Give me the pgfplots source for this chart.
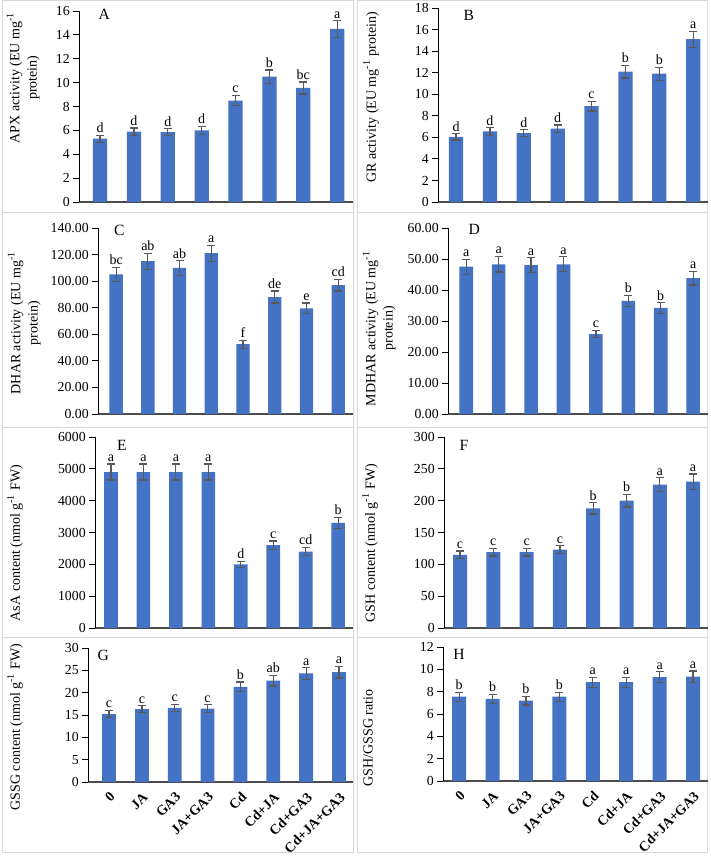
\documentclass[border=0pt]{standalone}
\usepackage{pgfplots}
\pgfplotsset{compat=1.18}
\usepackage{pgfplotstable}
\usepackage{fontspec}
\setmainfont{Liberation Serif}

\definecolor{barblue}{HTML}{4472C4}
\definecolor{errgray}{HTML}{595959}
\definecolor{frame}{HTML}{D9D9D9}

\pgfplotstableread{
x y e l
0 5.30 0.30 d
1 5.90 0.30 d
2 5.85 0.30 d
3 6.00 0.35 d
4 8.50 0.45 c
5 10.50 0.55 b
6 9.55 0.50 bc
7 14.50 0.70 a
}\dataA
\pgfplotstableread{
x y e l
0 6.05 0.30 d
1 6.55 0.35 d
2 6.40 0.30 d
3 6.80 0.35 d
4 8.90 0.45 c
5 12.10 0.60 b
6 11.90 0.60 b
7 15.10 0.75 a
}\dataB
\pgfplotstableread{
x y e l
0 105.0 5.5 bc
1 115.0 6.0 ab
2 110.0 5.5 ab
3 121.0 6.0 a
4 52.5 3.0 f
5 88.0 4.5 de
6 79.5 4.0 e
7 97.0 4.5 cd
}\dataC
\pgfplotstableread{
x y e l
0 47.5 2.4 a
1 48.3 2.5 a
2 48.0 2.4 a
3 48.3 2.4 a
4 25.8 1.2 c
5 36.5 1.8 b
6 34.2 1.7 b
7 43.8 2.2 a
}\dataD
\pgfplotstableread{
x y e l
0 4900 250 a
1 4900 250 a
2 4900 250 a
3 4900 250 a
4 2000 100 d
5 2600 130 c
6 2400 130 cd
7 3300 170 b
}\dataE
\pgfplotstableread{
x y e l
0 115 6 c
1 119 6 c
2 119 6 c
3 123 6 c
4 188 9 b
5 200 10 b
6 225 11 a
7 230 12 a
}\dataF
\pgfplotstableread{
x y e l
0 15.2 0.8 c
1 16.3 0.8 c
2 16.6 0.8 c
3 16.4 0.9 c
4 21.3 1.1 b
5 22.7 1.2 ab
6 24.3 1.3 a
7 24.6 1.3 a
}\dataG
\pgfplotstableread{
x y e l
0 7.55 0.40 b
1 7.35 0.40 b
2 7.20 0.40 b
3 7.55 0.40 b
4 8.85 0.45 a
5 8.85 0.45 a
6 9.30 0.50 a
7 9.35 0.50 a
}\dataH

\pgfplotsset{
  panel/.style={
    scale only axis, clip=false,
    axis lines*=left,
    ymin=0, xtick=\empty,
    tick align=outside, major tick length=3pt,
    every tick/.style={black, line width=0.4pt},
    x axis line style={draw=black!70, line width=0.9pt},
    y axis line style={draw=black, line width=0.45pt},
    tick label style={font=\fontsize{6.9}{8}\selectfont},
    /pgf/number format/assume math mode=true,
    /pgf/number format/1000 sep={},
    yticklabel style={inner sep=1.5pt},
  },
  lab/.style 2 args={every axis y label/.style={at={(rel axis cs:0,#2)}, xshift=#1, rotate=90, anchor=center, align=center, font=\fontsize{7}{8.6}\selectfont}},
  bottomrow/.style={
    xtick={0,...,7},
    xticklabels={0,JA,GA3,JA+GA3,Cd,Cd+JA,Cd+GA3,Cd+JA+GA3},
    xtick style={draw=none},
    x tick label style={rotate=45, anchor=north east, inner sep=1pt, font=\fontsize{7}{8}\selectfont\bfseries},
  },
  bars/.style={ybar, bar width=0.42, fill=barblue, draw=none,
    error bars/.cd, y dir=both, y explicit,
    error bar style={errgray, line width=0.6pt},
    error mark options={rotate=90, errgray, mark size=2pt, line width=0.6pt}},
  letters/.style={draw=none, mark=none, nodes near coords, point meta=explicit symbolic,
    nodes near coords style={font=\fontsize{7}{8}\selectfont, inner sep=1pt, anchor=south, text=black}},
}
\newcommand{\panelletter}[3]{\node[font=\fontsize{7.8}{9}\selectfont] at (axis cs:#1,#2) {#3};}

\begin{document}
\begin{tikzpicture}
\path (0,0) rectangle (354.5pt,431pt);
% panel frames
\begin{scope}[draw=frame, line width=0.5pt]
\draw (0.5pt,324.5pt) rectangle (176pt,430.5pt);
\draw (178pt,324.5pt) rectangle (353pt,430.5pt);
\draw (0.5pt,217pt) rectangle (176pt,324.5pt);
\draw (178pt,217pt) rectangle (353pt,324.5pt);
\draw (0.5pt,112pt) rectangle (176pt,217pt);
\draw (178pt,112pt) rectangle (353pt,217pt);
\draw (0.5pt,4.5pt) rectangle (176pt,112pt);
\draw (178pt,4.5pt) rectangle (353pt,112pt);
\end{scope}

% A
\begin{axis}[panel, at={(39pt,330pt)}, anchor=south west, width=137pt, height=95.5pt,
  xmin=-0.62, xmax=7.47, ymax=16, ytick={0,2,...,16},
  lab={-28pt}{0.65}, ylabel={APX activity (EU mg\textsuperscript{-1}\\protein)}]
\addplot[bars] table[x=x, y=y, y error=e] {\dataA};
\addplot[letters] table[x=x, y expr=\thisrow{y}+\thisrow{e}, meta=l] {\dataA};
\panelletter{0.12}{15.7}{A}
\end{axis}

% B
\begin{axis}[panel, at={(218.5pt,330pt)}, anchor=south west, width=135pt, height=97pt,
  xmin=-0.53, xmax=7.44, ymax=18, ytick={0,2,...,18},
  lab={-33.5pt}{0.54}, ylabel={GR activity (EU mg\textsuperscript{-1} protein)}]
\addplot[bars] table[x=x, y=y, y error=e] {\dataB};
\addplot[letters] table[x=x, y expr=\thisrow{y}+\thisrow{e}, meta=l] {\dataB};
\panelletter{0.38}{17.35}{B}
\end{axis}

% C
\begin{axis}[panel, at={(48.5pt,224pt)}, anchor=south west, width=127.5pt, height=93pt,
  xmin=-0.57, xmax=7.47, ymax=140, ytick={0,20,...,140},
  yticklabel style={/pgf/number format/fixed, /pgf/number format/fixed zerofill, /pgf/number format/precision=2},
  lab={-37pt}{0.49}, ylabel={DHAR activity (EU mg\textsuperscript{-1}\\protein)}]
\addplot[bars] table[x=x, y=y, y error=e] {\dataC};
\addplot[letters] table[x=x, y expr=\thisrow{y}+\thisrow{e}, meta=l] {\dataC};
\panelletter{0.1}{138.5}{C}
\end{axis}

% D
\begin{axis}[panel, at={(223.5pt,224pt)}, anchor=south west, width=130pt, height=93pt,
  xmin=-0.56, xmax=7.46, ymax=60, ytick={0,10,...,60},
  yticklabel style={/pgf/number format/fixed, /pgf/number format/fixed zerofill, /pgf/number format/precision=2},
  lab={-34.5pt}{0.46}, ylabel={MDHAR activity (EU mg\textsuperscript{-1}\\protein)}]
\addplot[bars] table[x=x, y=y, y error=e] {\dataD};
\addplot[letters] table[x=x, y expr=\thisrow{y}+\thisrow{e}, meta=l] {\dataD};
\panelletter{0.25}{59.4}{D}
\end{axis}

% E
\begin{axis}[panel, at={(47pt,117pt)}, anchor=south west, width=129pt, height=95.5pt,
  xmin=-0.49, xmax=7.46, ymax=6000, ytick={0,1000,...,6000},
  scaled y ticks=false,
  lab={-40pt}{0.445}, ylabel={AsA content (nmol g\textsuperscript{-1} FW)}]
\addplot[bars] table[x=x, y=y, y error=e] {\dataE};
\addplot[letters] table[x=x, y expr=\thisrow{y}+\thisrow{e}, meta=l] {\dataE};
\panelletter{0.34}{5750}{E}
\end{axis}

% F
\begin{axis}[panel, at={(221.5pt,117pt)}, anchor=south west, width=132pt, height=95.5pt,
  xmin=-0.48, xmax=7.45, ymax=300, ytick={0,50,...,300},
  lab={-37pt}{0.445}, ylabel={GSH content (nmol g\textsuperscript{-1} FW)}]
\addplot[bars] table[x=x, y=y, y error=e] {\dataF};
\addplot[letters] table[x=x, y expr=\thisrow{y}+\thisrow{e}, meta=l] {\dataF};
\panelletter{0.12}{287}{F}
\end{axis}

% G
\begin{axis}[panel, bottomrow, at={(43.5pt,40pt)}, anchor=south west, width=132.5pt, height=67pt,
  xmin=-0.64, xmax=7.43, ymax=30, ytick={0,5,...,30},
  lab={-36.5pt}{0.41}, ylabel={GSSG content (nmol g\textsuperscript{-1} FW)}]
\addplot[bars] table[x=x, y=y, y error=e] {\dataG};
\addplot[letters] table[x=x, y expr=\thisrow{y}+\thisrow{e}, meta=l] {\dataG};
\panelletter{-0.18}{28.4}{G}
\end{axis}

% H
\begin{axis}[panel, bottomrow, at={(221pt,40.5pt)}, anchor=south west, width=132.5pt, height=67pt,
  xmin=-0.48, xmax=7.45, ymax=12, ytick={0,2,...,12},
  lab={-37.5pt}{0.32}, ylabel={GSH/GSSG ratio}]
\addplot[bars] table[x=x, y=y, y error=e] {\dataH};
\addplot[letters] table[x=x, y expr=\thisrow{y}+\thisrow{e}, meta=l] {\dataH};
\panelletter{0}{11.3}{H}
\end{axis}
\end{tikzpicture}
\end{document}
